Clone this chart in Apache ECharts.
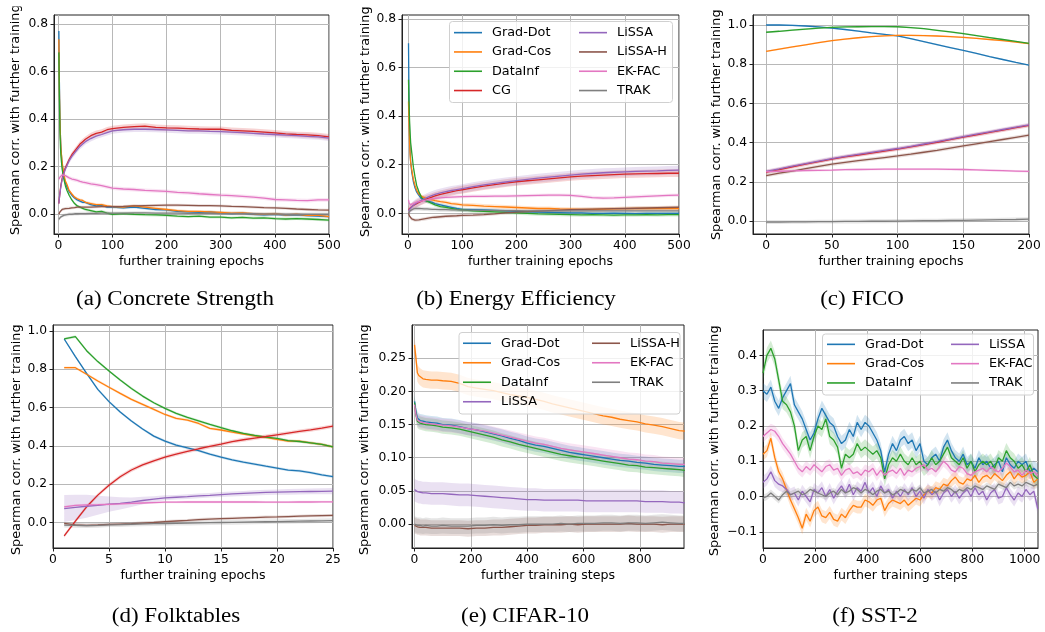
<!DOCTYPE html>
<html><head><meta charset="utf-8">
<script src="https://cdn.jsdelivr.net/npm/echarts@6/dist/echarts.min.js"></script>
<style>html,body{margin:0;padding:0;background:#fff}#c{width:1045px;height:632px}</style>
</head><body><div id="c"></div>
<script>
// ---------- colours ----------
const COLORS = {'Grad-Dot':'#1f77b4','Grad-Cos':'#ff7f0e','DataInf':'#2ca02c','CG':'#d62728',
  'LiSSA':'#9467bd','LiSSA-H':'#8c564b','EK-FAC':'#e377c2','TRAK':'#7f7f7f'};

// ---------- tick labels ----------
const ticks500 = [0,100,200,300,400,500];
const ticks200 = [0,50,100,150,200];
const ticks25 = [0,5,10,15,20,25];
const ticks800 = [0,200,400,600,800];
const ticks1000 = [0,200,400,600,800,1000];
const yTicks08 = [0,0.2,0.4,0.6,0.8];
const yTicks10 = [0,0.2,0.4,0.6,0.8,1.0];
const yTicksE = [0,0.05,0.10,0.15,0.20,0.25];
const yTicksF = [-0.1,0,0.1,0.2,0.3,0.4];

// ---------- (a) Concrete Strength ----------
const epochs500 = [1,2,3,4,5,7,10,13,16,20,25,30,35,40,45,50,60,70,80,90,100,120,140,160,180,200,220,240,260,280,300,320,340,360,380,400,420,440,460,480,500];
const aGradDot = [0.77,0.55,0.40,0.32,0.27,0.21,0.16,0.13,0.115,0.095,0.08,0.068,0.06,0.055,0.05,0.05,0.04,0.035,0.038,0.03,0.03,0.027,0.03,0.025,0.02,0.018,0.012,0.01,0.008,0.01,0.005,0.003,0.005,0.0,-0.003,0.0,-0.004,-0.003,-0.006,-0.008,-0.01];
const aGradCos = [0.735,0.52,0.39,0.32,0.27,0.22,0.17,0.14,0.125,0.10,0.085,0.072,0.065,0.06,0.058,0.05,0.045,0.04,0.04,0.035,0.032,0.03,0.035,0.03,0.025,0.02,0.015,0.012,0.012,0.01,0.008,0.005,0.006,0.002,0.0,0.002,-0.003,0.0,-0.005,-0.005,-0.01];
const aDataInf = [0.68,0.48,0.35,0.28,0.24,0.19,0.15,0.12,0.10,0.08,0.06,0.045,0.035,0.03,0.025,0.02,0.015,0.01,0.012,0.005,0.0,0.003,0.0,-0.002,-0.003,-0.005,-0.008,-0.01,-0.008,-0.012,-0.012,-0.015,-0.013,-0.016,-0.015,-0.018,-0.02,-0.018,-0.02,-0.022,-0.025];
const aCG = [0.045,0.07,0.09,0.11,0.125,0.15,0.175,0.195,0.21,0.23,0.25,0.265,0.28,0.295,0.305,0.315,0.33,0.34,0.345,0.355,0.36,0.365,0.368,0.37,0.365,0.363,0.362,0.36,0.358,0.357,0.357,0.352,0.35,0.348,0.345,0.342,0.338,0.335,0.333,0.33,0.325];
const aLiSSA = [0.045,0.068,0.088,0.105,0.12,0.145,0.17,0.19,0.205,0.225,0.243,0.258,0.272,0.285,0.295,0.305,0.318,0.328,0.335,0.343,0.35,0.355,0.357,0.357,0.356,0.354,0.352,0.35,0.35,0.348,0.347,0.345,0.343,0.34,0.337,0.335,0.332,0.33,0.327,0.325,0.32];
const aLiSSAH = [0.0,0.005,0.01,0.013,0.015,0.02,0.022,0.024,0.025,0.025,0.027,0.028,0.03,0.03,0.03,0.03,0.03,0.031,0.032,0.032,0.032,0.033,0.035,0.036,0.037,0.038,0.038,0.037,0.036,0.036,0.035,0.033,0.032,0.03,0.028,0.027,0.025,0.022,0.02,0.018,0.017];
const aEKFAC = [0.147,0.152,0.156,0.16,0.162,0.165,0.165,0.162,0.158,0.153,0.148,0.145,0.142,0.138,0.135,0.133,0.128,0.124,0.12,0.115,0.11,0.106,0.104,0.1,0.098,0.096,0.092,0.09,0.086,0.083,0.08,0.078,0.075,0.072,0.068,0.062,0.06,0.058,0.057,0.06,0.06];
const aTRAK = [-0.022,-0.018,-0.015,-0.012,-0.01,-0.007,-0.005,-0.003,-0.002,0.0,0.0,0.002,0.002,0.003,0.003,0.003,0.004,0.004,0.005,0.005,0.005,0.005,0.006,0.006,0.005,0.005,0.005,0.004,0.004,0.004,0.003,0.003,0.002,0.002,0.001,0.001,0.0,0.0,0.0,0.0,0.0];

// ---------- (b) Energy Efficiency ----------
const bGradDot = [0.70,0.45,0.32,0.25,0.21,0.17,0.13,0.105,0.088,0.075,0.06,0.055,0.05,0.048,0.045,0.04,0.035,0.03,0.025,0.02,0.016,0.015,0.014,0.012,0.01,0.008,0.006,0.005,0.004,0.003,0.002,0.002,0.0,0.0,0.001,0.0,-0.001,0.0,0.0,0.0,0.0];
const bGradCos = [0.46,0.36,0.29,0.24,0.21,0.18,0.14,0.115,0.095,0.08,0.07,0.065,0.06,0.058,0.055,0.052,0.048,0.045,0.04,0.038,0.035,0.033,0.03,0.028,0.026,0.024,0.022,0.02,0.02,0.018,0.017,0.016,0.016,0.017,0.018,0.019,0.02,0.02,0.02,0.021,0.02];
const bDataInf = [0.55,0.45,0.38,0.33,0.29,0.25,0.19,0.15,0.115,0.09,0.065,0.055,0.05,0.045,0.04,0.035,0.028,0.025,0.02,0.016,0.014,0.01,0.008,0.006,0.004,0.002,0.0,-0.002,-0.003,-0.004,-0.005,-0.006,-0.005,-0.006,-0.007,-0.006,-0.006,-0.005,-0.006,-0.005,-0.005];
const bCG = [0.015,0.017,0.02,0.022,0.024,0.027,0.032,0.036,0.04,0.045,0.05,0.055,0.06,0.064,0.068,0.072,0.078,0.083,0.088,0.093,0.097,0.105,0.112,0.118,0.124,0.13,0.134,0.138,0.142,0.146,0.15,0.153,0.155,0.157,0.159,0.161,0.162,0.163,0.164,0.165,0.165];
const bLiSSA = [0.01,0.013,0.016,0.019,0.022,0.027,0.033,0.038,0.043,0.048,0.054,0.06,0.065,0.07,0.074,0.078,0.084,0.089,0.094,0.098,0.102,0.11,0.117,0.123,0.129,0.135,0.14,0.145,0.149,0.153,0.157,0.161,0.164,0.167,0.169,0.171,0.173,0.174,0.175,0.177,0.178];
const bLiSSAH = [0.0,-0.006,-0.012,-0.016,-0.019,-0.023,-0.026,-0.028,-0.028,-0.027,-0.025,-0.023,-0.021,-0.019,-0.017,-0.016,-0.014,-0.012,-0.011,-0.01,-0.008,-0.007,-0.005,-0.002,0.002,0.005,0.007,0.009,0.011,0.013,0.015,0.016,0.017,0.018,0.019,0.02,0.021,0.022,0.023,0.024,0.025];
const bEKFAC = [0.055,0.045,0.038,0.035,0.034,0.036,0.04,0.043,0.046,0.048,0.05,0.053,0.055,0.058,0.06,0.062,0.064,0.066,0.067,0.068,0.069,0.07,0.07,0.071,0.071,0.072,0.073,0.074,0.075,0.075,0.074,0.07,0.065,0.063,0.064,0.066,0.068,0.07,0.072,0.074,0.075];
const bTRAK = [0.0,0.004,0.008,0.011,0.013,0.016,0.018,0.019,0.02,0.02,0.019,0.018,0.018,0.017,0.016,0.016,0.015,0.015,0.014,0.014,0.013,0.013,0.012,0.012,0.011,0.011,0.01,0.01,0.01,0.01,0.01,0.01,0.01,0.01,0.01,0.01,0.01,0.01,0.01,0.01,0.01];

// ---------- (c) FICO ----------
const epochs200 = [0,10,20,30,40,50,60,70,80,90,100,110,120,130,140,150,160,170,180,190,200];
const cGradDot = [1.0,1.0,0.998,0.995,0.99,0.984,0.977,0.969,0.96,0.952,0.944,0.93,0.915,0.9,0.885,0.87,0.855,0.839,0.824,0.809,0.795];
const cGradCos = [0.866,0.877,0.888,0.899,0.91,0.92,0.928,0.935,0.941,0.945,0.947,0.947,0.946,0.944,0.941,0.937,0.932,0.926,0.92,0.913,0.905];
const cDataInf = [0.963,0.968,0.974,0.979,0.984,0.988,0.99,0.991,0.992,0.992,0.991,0.987,0.981,0.973,0.965,0.956,0.946,0.936,0.926,0.916,0.906];
const cCG = [0.25,0.263,0.277,0.29,0.303,0.316,0.327,0.337,0.347,0.357,0.367,0.378,0.39,0.402,0.415,0.428,0.44,0.452,0.464,0.476,0.488];
const cLiSSA = [0.253,0.266,0.28,0.293,0.306,0.319,0.33,0.34,0.35,0.36,0.37,0.381,0.393,0.405,0.418,0.431,0.443,0.455,0.467,0.479,0.491];
const cLiSSAH = [0.232,0.244,0.255,0.267,0.279,0.29,0.299,0.308,0.316,0.324,0.332,0.341,0.351,0.361,0.372,0.383,0.394,0.405,0.416,0.427,0.438];
const cEKFAC = [0.252,0.254,0.256,0.258,0.259,0.26,0.262,0.263,0.264,0.265,0.265,0.265,0.265,0.265,0.264,0.263,0.261,0.259,0.257,0.255,0.253];
const cTRAK = [-0.005,-0.005,-0.004,-0.004,-0.003,-0.003,-0.002,-0.002,-0.001,-0.001,0.0,0.001,0.002,0.002,0.003,0.004,0.005,0.006,0.007,0.008,0.01];

// ---------- (d) Folktables ----------
const epochs25 = [1,2,3,4,5,6,7,8,9,10,11,12,13,14,15,16,17,18,19,20,21,22,23,24,25];
const dGradDot = [0.958,0.866,0.779,0.695,0.631,0.577,0.530,0.488,0.451,0.425,0.404,0.390,0.375,0.357,0.341,0.327,0.315,0.305,0.294,0.284,0.274,0.270,0.260,0.249,0.239];
const dGradCos = [0.808,0.808,0.774,0.739,0.706,0.674,0.643,0.617,0.591,0.564,0.544,0.535,0.517,0.491,0.483,0.472,0.462,0.453,0.444,0.434,0.425,0.425,0.416,0.408,0.395];
const dDataInf = [0.958,0.970,0.897,0.840,0.791,0.744,0.700,0.660,0.625,0.596,0.570,0.549,0.531,0.512,0.495,0.479,0.465,0.455,0.446,0.439,0.427,0.423,0.416,0.408,0.395];
const dCG = [-0.070,0.007,0.082,0.143,0.195,0.239,0.274,0.301,0.322,0.341,0.357,0.371,0.385,0.397,0.409,0.422,0.432,0.441,0.449,0.458,0.467,0.476,0.484,0.493,0.503];
const dLiSSA = [0.073,0.079,0.085,0.090,0.096,0.100,0.106,0.115,0.122,0.129,0.132,0.135,0.139,0.142,0.146,0.149,0.152,0.155,0.157,0.159,0.160,0.161,0.162,0.163,0.164];
const dLiSSABand = [0.07,0.066,0.06,0.05,0.04,0.032,0.025,0.019,0.015,0.013,0.012,0.012,0.012,0.012,0.013,0.013,0.013,0.014,0.014,0.014,0.015,0.015,0.015,0.016,0.016];
const dLiSSAH = [-0.005,-0.012,-0.015,-0.013,-0.01,-0.008,-0.006,-0.003,0.0,0.005,0.008,0.011,0.015,0.018,0.02,0.022,0.024,0.026,0.028,0.029,0.031,0.033,0.035,0.036,0.037];
const dEKFAC = [0.082,0.09,0.092,0.093,0.095,0.097,0.1,0.102,0.104,0.106,0.106,0.107,0.107,0.107,0.107,0.107,0.107,0.107,0.106,0.106,0.106,0.107,0.107,0.108,0.108];
const dTRAK = [-0.014,-0.015,-0.016,-0.015,-0.012,-0.011,-0.009,-0.007,-0.006,-0.005,-0.004,-0.003,-0.002,-0.001,0.0,0.001,0.002,0.003,0.004,0.005,0.006,0.007,0.008,0.009,0.01];

// ---------- (e) CIFAR-10 ----------
const stepsE = [0,5,10,15,20,30,40,60,80,100,130,160,190,220,250,280,310,340,370,400,430,460,490,520,550,580,610,640,670,700,730,760,790,820,850,880,910,940,960];
const eGradDot = [0.185,0.17,0.16,0.157,0.156,0.155,0.154,0.153,0.152,0.15,0.149,0.147,0.144,0.142,0.139,0.136,0.133,0.129,0.126,0.122,0.119,0.117,0.114,0.111,0.108,0.106,0.104,0.102,0.1,0.098,0.096,0.095,0.093,0.092,0.09,0.089,0.088,0.087,0.087];
const eGradCos = [0.27,0.25,0.228,0.224,0.222,0.219,0.218,0.217,0.217,0.216,0.215,0.212,0.207,0.205,0.203,0.201,0.198,0.195,0.193,0.191,0.188,0.185,0.181,0.178,0.175,0.172,0.169,0.166,0.163,0.161,0.158,0.156,0.154,0.151,0.149,0.147,0.144,0.141,0.14];
const eDataInf = [0.183,0.165,0.155,0.153,0.152,0.151,0.15,0.149,0.148,0.146,0.145,0.143,0.14,0.137,0.134,0.131,0.127,0.124,0.12,0.117,0.114,0.111,0.108,0.105,0.103,0.101,0.099,0.097,0.095,0.093,0.091,0.089,0.088,0.086,0.085,0.084,0.083,0.082,0.081];
const eLiSSA = [0.052,0.05,0.049,0.048,0.048,0.047,0.047,0.046,0.046,0.046,0.045,0.044,0.044,0.043,0.042,0.041,0.04,0.039,0.038,0.037,0.037,0.036,0.036,0.036,0.036,0.036,0.035,0.035,0.035,0.035,0.035,0.035,0.035,0.034,0.034,0.034,0.033,0.033,0.032];
const eLiSSAH = [-0.002,-0.003,-0.004,-0.004,-0.005,-0.005,-0.005,-0.006,-0.006,-0.006,-0.006,-0.006,-0.007,-0.006,-0.006,-0.005,-0.005,-0.004,-0.003,-0.002,-0.002,-0.001,-0.001,-0.001,0.0,-0.001,0.0,0.0,0.0,0.0,0.0,0.001,0.0,0.0,0.0,-0.001,0.0,0.0,0.0];
const eEKFAC = [0.18,0.165,0.157,0.155,0.154,0.153,0.152,0.151,0.15,0.149,0.148,0.146,0.144,0.142,0.14,0.137,0.134,0.131,0.128,0.125,0.122,0.12,0.117,0.114,0.112,0.11,0.108,0.106,0.104,0.102,0.1,0.098,0.097,0.095,0.094,0.092,0.091,0.09,0.09];
const eTRAK = [0.0,-0.001,-0.002,-0.002,-0.002,-0.003,-0.002,-0.003,-0.003,-0.002,-0.003,-0.003,-0.003,-0.002,-0.002,-0.001,-0.002,-0.001,-0.001,0.0,0.0,0.0,0.0,0.001,0.0,0.001,0.001,0.001,0.002,0.002,0.001,0.002,0.002,0.001,0.002,0.003,0.002,0.001,0.001];

// ---------- (f) SST-2 ----------
const stepsF = [0,15,30,45,60,75,90,105,120,135,150,165,180,195,210,225,240,255,270,285,300,315,330,345,360,375,390,405,420,435,450,465,480,495,510,525,540,555,570,585,600,615,630,645,660,675,690,705,720,735,750,765,780,795,810,825,840,855,870,885,900,915,930,945,960,975,990,1005,1020,1035,1050];
const fGradDot = [0.30,0.29,0.31,0.27,0.25,0.28,0.30,0.32,0.26,0.24,0.22,0.19,0.16,0.18,0.22,0.25,0.23,0.21,0.20,0.17,0.15,0.16,0.19,0.17,0.21,0.19,0.21,0.20,0.18,0.16,0.13,0.07,0.12,0.15,0.13,0.16,0.17,0.15,0.16,0.13,0.15,0.10,0.09,0.11,0.12,0.10,0.14,0.16,0.13,0.11,0.10,0.12,0.09,0.10,0.08,0.11,0.09,0.10,0.08,0.09,0.10,0.07,0.11,0.09,0.08,0.10,0.09,0.10,0.07,0.08,0.07];
const fGradCos = [0.12,0.13,0.165,0.11,0.07,0.05,0.02,-0.01,-0.035,-0.06,-0.09,-0.05,-0.07,-0.04,-0.03,-0.055,-0.06,-0.045,-0.065,-0.07,-0.05,-0.06,-0.04,-0.025,-0.03,-0.03,-0.01,-0.015,-0.025,-0.01,-0.005,-0.04,-0.02,-0.01,-0.015,-0.02,-0.01,-0.025,-0.015,-0.005,-0.01,0.005,0.015,0.01,0.025,0.02,0.035,0.03,0.045,0.055,0.04,0.035,0.05,0.045,0.06,0.04,0.055,0.06,0.05,0.065,0.055,0.045,0.06,0.07,0.05,0.065,0.055,0.06,0.07,0.04,0.05];
const fDataInf = [0.35,0.40,0.42,0.39,0.33,0.27,0.26,0.24,0.20,0.13,0.16,0.17,0.13,0.17,0.20,0.19,0.22,0.17,0.16,0.14,0.08,0.12,0.11,0.12,0.15,0.13,0.14,0.13,0.12,0.13,0.11,0.05,0.09,0.11,0.10,0.12,0.10,0.09,0.11,0.09,0.10,0.08,0.09,0.11,0.09,0.10,0.12,0.14,0.11,0.10,0.09,0.11,0.08,0.10,0.07,0.09,0.10,0.09,0.10,0.08,0.11,0.10,0.13,0.11,0.10,0.08,0.09,0.07,0.09,0.06,0.05];
const fLiSSA = [0.04,0.05,0.07,0.045,0.035,0.03,0.02,0.005,0.01,-0.01,0.015,0.0,-0.015,0.02,0.01,0.025,0.0,0.02,-0.005,0.015,0.03,0.01,0.035,0.005,0.025,0.015,0.04,0.01,0.025,0.0,0.03,0.01,0.02,-0.005,0.015,0.0,0.02,0.005,0.025,0.0,0.015,-0.005,0.02,0.005,0.015,-0.01,0.01,0.02,0.0,0.015,-0.005,0.01,0.02,0.0,0.025,0.005,0.015,-0.01,0.01,0.02,-0.005,0.0,0.025,0.005,-0.01,0.01,0.0,0.02,0.005,0.015,-0.035];
const fEKFAC = [0.17,0.18,0.19,0.185,0.17,0.15,0.135,0.12,0.10,0.08,0.07,0.085,0.075,0.09,0.08,0.07,0.085,0.09,0.075,0.08,0.06,0.075,0.08,0.065,0.07,0.06,0.075,0.07,0.08,0.06,0.075,0.06,0.07,0.075,0.065,0.08,0.06,0.075,0.07,0.08,0.085,0.09,0.075,0.08,0.07,0.085,0.10,0.09,0.075,0.07,0.085,0.08,0.065,0.06,0.07,0.075,0.08,0.07,0.085,0.075,0.07,0.08,0.095,0.085,0.07,0.075,0.06,0.075,0.065,0.07,0.06];
const fTRAK = [-0.005,0.0,0.01,0.0,-0.01,0.005,0.015,0.005,0.01,0.015,0.005,0.01,0.02,0.015,0.01,0.005,0.0,0.01,0.015,0.005,0.02,0.01,0.015,0.025,0.02,0.01,0.02,0.015,0.005,0.015,0.02,0.01,0.015,0.005,0.01,0.02,0.015,0.01,0.02,0.015,0.025,0.01,0.015,0.02,0.01,0.02,0.015,0.025,0.02,0.01,0.02,0.015,0.025,0.02,0.03,0.025,0.02,0.03,0.025,0.02,0.035,0.03,0.025,0.04,0.03,0.035,0.03,0.04,0.035,0.03,0.035];

// ---------- build ----------
const FONT = 'DejaVu Sans';
const grids = [], xAxes = [], yAxes = [], series = [];

function addPanel(gi, box, xr, yr, xt, yt, ydec, xname, defs) {
  grids.push({left: box[0], top: box[1], width: box[2], height: box[3], show: true,
    borderColor: '#222', borderWidth: 1, backgroundColor: 'rgba(0,0,0,0)', containLabel: false});
  xAxes.push({type: 'value', gridIndex: gi, min: xr[0], max: xr[1],
    name: xname, nameLocation: 'middle', nameGap: 21,
    nameTextStyle: {fontFamily: FONT, fontSize: 12.6, color: '#000'},
    axisLine: {show: true, onZero: false, lineStyle: {color: '#222', width: 1}},
    axisTick: {show: true, inside: false, length: 3.5, customValues: xt, lineStyle: {color: '#222'}},
    axisLabel: {customValues: xt, margin: 6, fontFamily: FONT, fontSize: 12.3, color: '#000',
      formatter: v => String(Math.round(v))},
    splitLine: {show: true, lineStyle: {color: '#b8b8b8', width: 1}}});
  yAxes.push({type: 'value', gridIndex: gi, min: yr[0], max: yr[1],
    axisLine: {show: true, onZero: false, lineStyle: {color: '#222', width: 1}},
    axisTick: {show: true, inside: false, length: 3.5, customValues: yt, lineStyle: {color: '#222'}},
    axisLabel: {customValues: yt, margin: 6, fontFamily: FONT, fontSize: 12.3, color: '#000',
      formatter: v => (v < -1e-9 ? '\u2212' : '') + Math.abs(v).toFixed(ydec)},
    splitLine: {show: true, lineStyle: {color: '#b8b8b8', width: 1}}});
  defs.forEach(([name, ys, band]) => {
    const col = COLORS[name];
    const xs = band.xs;
    series.push({type: 'custom', xAxisIndex: gi, yAxisIndex: gi, z: 1, silent: true, clip: true,
      data: [[xs[0], ys[0]]],
      renderItem: (params, api) => {
        const up = [], lo = [];
        for (let i = 0; i < xs.length; i++) {
          const b = Array.isArray(band.w) ? band.w[i] : band.w;
          up.push(api.coord([xs[i], ys[i] + b]));
          lo.push(api.coord([xs[i], ys[i] - b]));
        }
        return {type: 'polygon', shape: {points: up.concat(lo.reverse())},
          style: {fill: col, opacity: 0.2}};
      }});
    series.push({type: 'line', name: name, xAxisIndex: gi, yAxisIndex: gi, z: 2,
      data: xs.map((x, i) => [x, ys[i]]), symbol: 'none', showSymbol: false,
      lineStyle: {color: col, width: 1.3}, itemStyle: {color: col}, emphasis: {disabled: true}});
  });
}
function B(xs, w) { return {xs: xs, w: w}; }

addPanel(0, [54, 15, 275, 219], [-8, 500], [-0.083, 0.837], ticks500, yTicks08, 1, 'further training epochs', [
  ['Grad-Dot', aGradDot, B(epochs500, 0.006)], ['Grad-Cos', aGradCos, B(epochs500, 0.006)],
  ['DataInf', aDataInf, B(epochs500, 0.006)], ['CG', aCG, B(epochs500, 0.012)],
  ['LiSSA', aLiSSA, B(epochs500, 0.012)], ['LiSSA-H', aLiSSAH, B(epochs500, 0.006)],
  ['EK-FAC', aEKFAC, B(epochs500, 0.008)], ['TRAK', aTRAK, B(epochs500, 0.007)]]);
addPanel(1, [402, 15, 277, 219], [-11, 500], [-0.085, 0.816], ticks500, yTicks08, 1, 'further training epochs', [
  ['Grad-Dot', bGradDot, B(epochs500, 0.007)], ['Grad-Cos', bGradCos, B(epochs500, 0.008)],
  ['DataInf', bDataInf, B(epochs500, 0.008)], ['CG', bCG, B(epochs500, 0.016)],
  ['LiSSA', bLiSSA, B(epochs500, 0.018)], ['LiSSA-H', bLiSSAH, B(epochs500, 0.007)],
  ['EK-FAC', bEKFAC, B(epochs500, 0.007)], ['TRAK', bTRAK, B(epochs500, 0.008)]]);
addPanel(2, [753, 15, 276, 219], [-10, 200], [-0.066, 1.051], ticks200, yTicks10, 1, 'further training epochs', [
  ['Grad-Dot', cGradDot, B(epochs200, 0.004)], ['Grad-Cos', cGradCos, B(epochs200, 0.004)],
  ['DataInf', cDataInf, B(epochs200, 0.004)], ['CG', cCG, B(epochs200, 0.01)],
  ['LiSSA', cLiSSA, B(epochs200, 0.01)], ['LiSSA-H', cLiSSAH, B(epochs200, 0.009)],
  ['EK-FAC', cEKFAC, B(epochs200, 0.006)], ['TRAK', cTRAK, B(epochs200, 0.01)]]);
addPanel(3, [53, 325, 280, 223], [0, 25], [-0.133, 1.031], ticks25, yTicks10, 1, 'further training epochs', [
  ['Grad-Dot', dGradDot, B(epochs25, 0.007)], ['Grad-Cos', dGradCos, B(epochs25, 0.007)],
  ['DataInf', dDataInf, B(epochs25, 0.007)], ['CG', dCG, B(epochs25, 0.01)],
  ['LiSSA', dLiSSA, B(epochs25, dLiSSABand)], ['LiSSA-H', dLiSSAH, B(epochs25, 0.008)],
  ['EK-FAC', dEKFAC, B(epochs25, 0.006)], ['TRAK', dTRAK, B(epochs25, 0.012)]]);
addPanel(4, [412, 325, 272, 223], [-9, 957], [-0.036, 0.300], ticks800, yTicksE, 2, 'further training steps', [
  ['Grad-Dot', eGradDot, B(stepsE, 0.01)], ['Grad-Cos', eGradCos, B(stepsE, 0.013)],
  ['DataInf', eDataInf, B(stepsE, 0.01)], ['LiSSA', eLiSSA, B(stepsE, 0.017)],
  ['LiSSA-H', eLiSSAH, B(stepsE, 0.012)], ['EK-FAC', eEKFAC, B(stepsE, 0.01)],
  ['TRAK', eTRAK, B(stepsE, 0.012)]]);
addPanel(5, [763, 330, 275, 218], [0, 1051], [-0.146, 0.472], ticks1000, yTicksF, 1, 'further training steps', [
  ['Grad-Dot', fGradDot, B(stepsF, 0.022)], ['Grad-Cos', fGradCos, B(stepsF, 0.018)],
  ['DataInf', fDataInf, B(stepsF, 0.022)], ['LiSSA', fLiSSA, B(stepsF, 0.018)],
  ['EK-FAC', fEKFAC, B(stepsF, 0.016)], ['TRAK', fTRAK, B(stepsF, 0.01)]]);

// ---------- legends ----------
function leg(names, left, top, pitch) {
  return {data: names, orient: 'vertical', left: left, top: top, icon: 'rect', itemWidth: 28, itemHeight: 1.6,
    itemGap: 0, selectedMode: false, padding: 0, z: 6,
    textStyle: {fontFamily: FONT, fontSize: 12.8, color: '#000', lineHeight: pitch, padding: [0, 0, 0, 5]}};
}
const legends = [
  leg(['Grad-Dot','Grad-Cos','DataInf','CG'], 454, 23, 19.3),
  leg(['LiSSA','LiSSA-H','EK-FAC','TRAK'], 579, 23, 19.3),
  leg(['Grad-Dot','Grad-Cos','DataInf','LiSSA'], 463, 333.5, 19.5),
  leg(['LiSSA-H','EK-FAC','TRAK'], 592, 333.5, 19.5),
  leg(['Grad-Dot','Grad-Cos','DataInf'], 827, 334.7, 19.3),
  leg(['LiSSA','EK-FAC','TRAK'], 951, 334.7, 19.3)
];

// ---------- texts ----------
const YLABEL = 'Spearman corr. with further training';
const graphics = [];
function legBox(x, y, w, h) {
  graphics.push({type: 'rect', z: 5, shape: {x: x, y: y, width: w, height: h, r: 3},
    style: {fill: 'rgba(255,255,255,0.8)', stroke: '#d0d0d0', lineWidth: 1}});
}
legBox(449.5, 21.5, 223, 81);
legBox(459, 332.5, 221, 81.5);
legBox(822.5, 334, 211, 61);
[[16, 235], [366, 237], [717, 240], [17, 555], [365, 555], [715, 556]].forEach(p => {
  graphics.push({type: 'text', x: p[0], y: p[1], rotation: Math.PI / 2, z: 10,
    style: {text: YLABEL, fontFamily: FONT, fontSize: 12.8, fill: '#000', align: 'left', verticalAlign: 'middle'}});
});
// the subfigure crops cut the top of the label in (a), (c), (f)
graphics.push({type: 'rect', z: 11, shape: {x: 5, y: 0, width: 24, height: 6.5}, style: {fill: '#fff'}});
graphics.push({type: 'rect', z: 11, shape: {x: 705, y: 0, width: 24, height: 6.5}, style: {fill: '#fff'}});
graphics.push({type: 'rect', z: 11, shape: {x: 705, y: 312, width: 24, height: 11}, style: {fill: '#fff'}});
const CAPTIONS = [['(a) Concrete Strength', 175, 300], ['(b) Energy Efficiency', 516, 300], ['(c) FICO', 862, 300],
  ['(d) Folktables', 176, 617], ['(e) CIFAR-10', 525, 617], ['(f) SST-2', 875, 617]];
CAPTIONS.forEach(c => {
  graphics.push({type: 'text', x: c[1], y: c[2], scaleX: 1.15, z: 10,
    style: {text: c[0], fontFamily: 'Liberation Serif', fontSize: 20, fill: '#000', align: 'center', verticalAlign: 'middle'}});
});

const chart = echarts.init(document.getElementById('c'), null, {renderer: 'canvas'});
chart.setOption({animation: false, backgroundColor: '#fff', grid: grids, xAxis: xAxes, yAxis: yAxes,
  legend: legends, series: series, graphic: {elements: graphics}});
</script></body></html>
